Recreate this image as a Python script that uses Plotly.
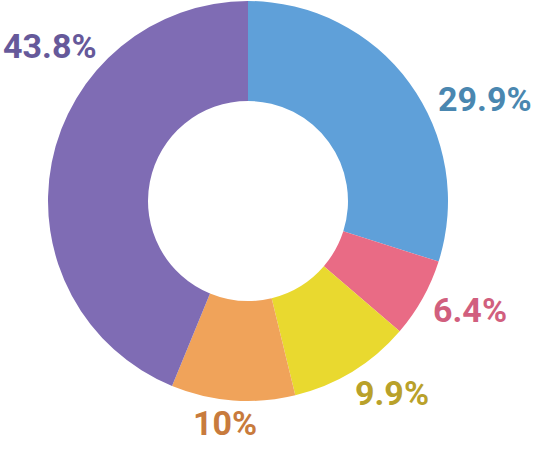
import plotly.graph_objects as go

labels = ["A", "B", "C", "D", "E"]
values = [29.9, 6.4, 9.9, 10, 43.8]
slice_colors = ["#5fa0d9", "#e96b85", "#e9d92f", "#f0a35a", "#7f6cb4"]
text_colors = ["#4a87b0", "#d15f7e", "#b9a12a", "#c87b3d", "#66599a"]

W, H = 537, 450
# where each percentage label sits (pixel centres)
label_pos = [(485, 101), (470, 312), (392, 395), (225, 425), (50, 48)]

fig = go.Figure(go.Pie(
    labels=labels,
    values=values,
    hole=0.5,
    sort=False,
    direction="clockwise",
    rotation=0,
    marker=dict(colors=slice_colors, line=dict(width=0)),
    textinfo="none",
    hoverinfo="label+percent",
    domain=dict(x=[48 / W, 448 / W], y=[(H - 401) / H, (H - 1) / H]),
))

for v, c, (px, py) in zip(values, text_colors, label_pos):
    fig.add_annotation(
        x=px / W, y=1 - (py - 2) / H, xref="paper", yref="paper",
        text=f"{v:g}%", showarrow=False,
        xanchor="center", yanchor="middle",
        font=dict(family="Roboto", size=34, color=c, weight="bold"),
    )

fig.update_layout(
    width=W,
    height=H,
    margin=dict(l=0, r=0, t=0, b=0),
    showlegend=False,
    paper_bgcolor="white",
)

# drop the default 8px page margin so the figure sits at the window corner
fig.write_html("out.html", config={"displayModeBar": False},
               post_script="document.body.style.margin='0';")
